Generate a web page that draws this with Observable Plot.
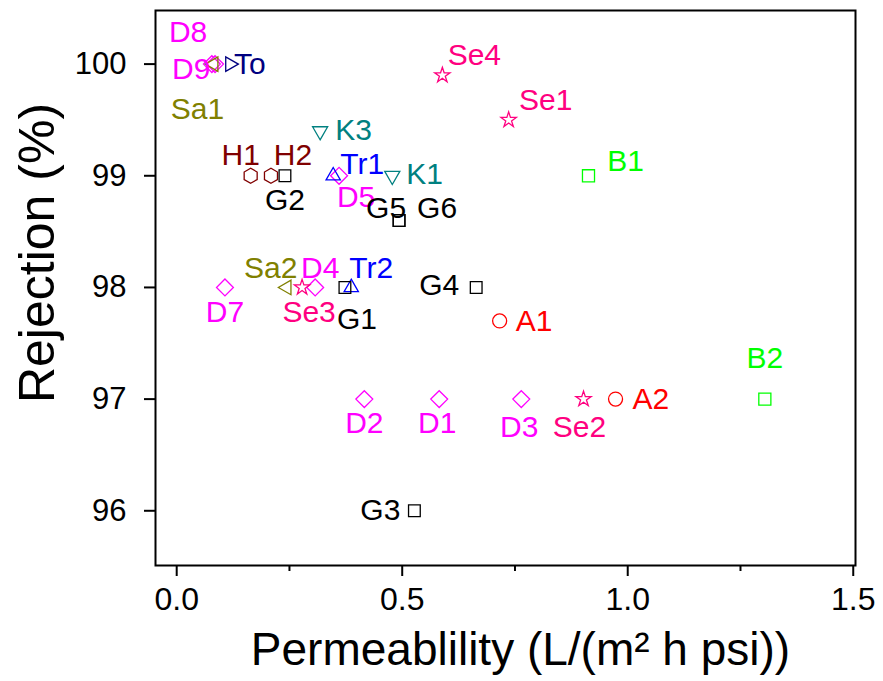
<!DOCTYPE html>
<html><head><meta charset="utf-8">
<script src="https://cdn.jsdelivr.net/npm/d3@7"></script>
<script src="https://cdn.jsdelivr.net/npm/@observablehq/plot@0.6"></script>
<style>
body{margin:0;background:#fff}
svg{font-family:"Liberation Sans",Arial,sans-serif}
</style>
</head><body><div id="chart"></div>
<script>
// ---- data ----
const names = ["D8","D9","Sa1","To","H1","H2","G2","K3","Tr1","D5","K1","G5","G6","D7","Sa2","Se3","D4","G1","Tr2","G4","Se4","Se1","B1","A1","D2","D1","D3","Se2","A2","B2","G3"];
const permeability = [0.078,0.085,0.082,0.118,0.164,0.209,0.240,0.318,0.347,0.360,0.478,0.493,0.493,0.107,0.244,0.278,0.307,0.373,0.387,0.664,0.589,0.736,0.913,0.716,0.416,0.582,0.764,0.902,0.973,1.304,0.527];
const rejection = [100,100,100,100,99,99,99,99.4,99,99,99,98.6,98.6,98,98,98,98,98,98,98,99.9,99.5,99,97.7,97,97,97,97,97,97,96];
const xTicks = [0, 0.5, 1.0, 1.5];
const xMinorTicks = [0.25, 0.75, 1.25];
const yTicks = [96, 97, 98, 99, 100];
const xTitle = "Permeablility (L/(m² h psi))";
const yTitle = "Rejection (%)";

// ---- styles ----
const groupColor = {D:"#FF00FF", Se:"#FF0080", Sa:"#808000", To:"#000080", H:"#800000", K:"#008080", Tr:"#0000FF", G:"#000000", B:"#00FF00", A:"#FF0000"};
const s3 = Math.sqrt(3);
const tri = (dir) => ({draw(ctx, size){
  const y = Math.sqrt(size / (s3 * 3));
  const pts = {
    up:[[0,-2*y],[s3*y,y],[-s3*y,y]],
    down:[[0,2*y],[s3*y,-y],[-s3*y,-y]],
    left:[[-2*y,0],[y,s3*y],[y,-s3*y]],
    right:[[2*y,0],[-y,s3*y],[-y,-s3*y]]
  }[dir];
  ctx.moveTo(pts[0][0],pts[0][1]); ctx.lineTo(pts[1][0],pts[1][1]); ctx.lineTo(pts[2][0],pts[2][1]); ctx.closePath();
}});
const groupSymbol = {D:["diamond2",7.6], Se:["star",4.8], Sa:[tri("left"),5.4], To:[tri("right"),5.4], H:["hexagon",6.5], K:[tri("down"),5.6], Tr:[tri("up"),5.3], G:["square",6.6], B:["square",6.8], A:["circle",7]};
// label anchor, dx, dy
const labelStyle = {
  D8:["start",-43,-32], D9:["start",-43,5], Sa1:["start",-43,45], To:["start",4,0],
  H1:["middle",-10,-20], H2:["middle",22,-20], G2:["middle",0,25], K3:["start",15,-1],
  Tr1:["start",7,-11], D5:["middle",17,22], K1:["start",14,-1], G5:["middle",-13,-12], G6:["middle",38,-12],
  D7:["middle",0,25], Sa2:["middle",-16,-19], Se3:["middle",7,25], D4:["middle",5,-19],
  G1:["middle",12,32], Tr2:["middle",20,-19], G4:["end",-17,-2], Se4:["middle",32,-20],
  Se1:["middle",37,-20], B1:["middle",37,-14], A1:["start",16,0], D2:["middle",0,24],
  D1:["middle",-2,24], D3:["middle",-2,28], Se2:["middle",-4,28], A2:["start",17,0],
  B2:["middle",0,-41], G3:["end",-14,0]
};

const rows = names.map((n,i) => ({name:n, group:n.replace(/\d+$/,""), x:permeability[i], y:rejection[i]}));

const marks = [];
for (const g of Object.keys(groupSymbol)) {
  const [sym, r] = groupSymbol[g];
  marks.push(Plot.dot(rows, {filter: d => d.group === g, x:"x", y:"y", symbol: sym, r, fill:"none", stroke: groupColor[g], strokeWidth:1.3}));
}
for (const d of rows) {
  const [anchor, dx, dy] = labelStyle[d.name];
  marks.push(Plot.text(rows, {filter: e => e.name === d.name, x:"x", y:"y", text:"name", textAnchor:anchor, lineAnchor:"middle", dx, dy, fill: groupColor[d.group], fontSize:30}));
}

const chart = Plot.plot({
  width: 883, height: 681,
  marginTop: 10, marginRight: 28, marginBottom: 116, marginLeft: 155,
  style: {fontFamily: '"Liberation Sans", Arial, sans-serif', background: "#fff", color: "#000"},
  x: {domain: [-0.047, 1.505]},
  y: {domain: [95.51, 100.48]},
  marks: [
    Plot.frame({stroke:"#000", strokeWidth:2}),
    Plot.axisX(xTicks, {tickFormat: d => d.toFixed(1), tickSize: 11, tickPadding: 11, fontSize: 32, strokeWidth: 2, label: null}),
    Plot.axisX(xMinorTicks, {tickFormat: () => "", tickSize: 6, strokeWidth: 2, label: null}),
    Plot.axisY(yTicks, {tickFormat: d => String(d), tickSize: 11, tickPadding: 18, fontSize: 31, strokeWidth: 2, label: null}),
    Plot.text([xTitle], {frameAnchor: "bottom", textAnchor: "middle", lineAnchor: "middle", dx: 15, dy: 85, fontSize: 46}),
    Plot.text([yTitle], {frameAnchor: "left", textAnchor: "middle", lineAnchor: "middle", rotate: -90, dx: -118, dy: -35, fontSize: 50}),
    ...marks
  ]
});
document.getElementById("chart").appendChild(chart);
</script>
</body></html>
